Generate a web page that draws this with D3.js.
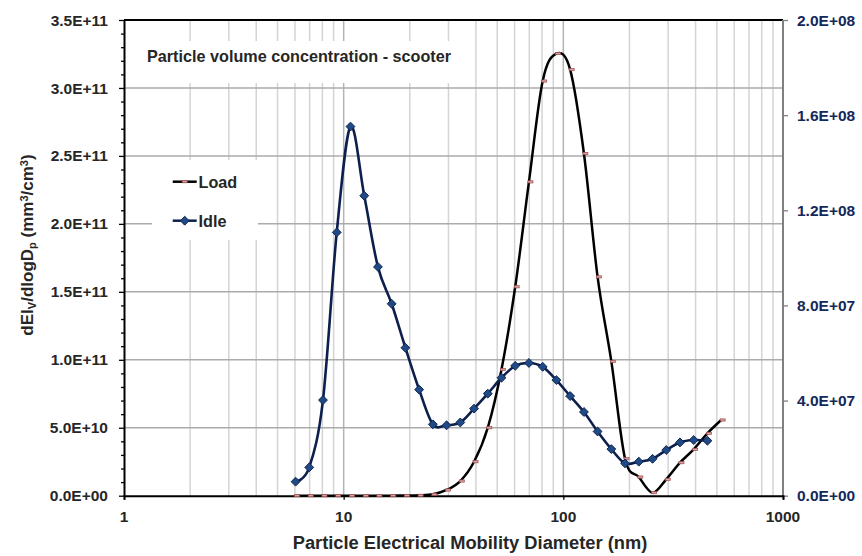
<!DOCTYPE html>
<html>
<head>
<meta charset="utf-8">
<script src="https://cdn.jsdelivr.net/npm/d3@7"></script>
<style>
  html, body { margin: 0; padding: 0; background: #fff; }
  svg { display: block; font-family: "Liberation Sans", Arial, sans-serif; font-weight: bold; }
</style>
</head>
<body>
<svg id="chart" width="862" height="556"></svg>
<script>
// Mobility diameter bins (nm)
const diameters = [6.04, 6.97, 8.05, 9.30, 10.74, 12.41, 14.32, 16.54, 19.10, 22.06,
  25.47, 29.41, 33.96, 39.22, 45.29, 52.30, 60.39, 69.73, 80.54, 93.01,
  107.4, 124.1, 143.2, 165.4, 191.0, 220.6, 254.7, 294.1, 339.6, 392.2,
  452.9, 523.0];

// Load: volume concentration, primary (left) axis
const loadValues = [0, 0, 0, 0, 0, 0, 2e7, 5e7, 1e8, 3e8,
  1.0e9, 4.2e9, 1.08e10, 2.5e10, 5.0e10, 9.29e10, 1.537e11, 2.309e11, 3.051e11, 3.253e11,
  3.135e11, 2.518e11, 1.610e11, 9.88e10, 2.72e10, 1.375e10, 2.2e9, 1.206e10, 2.43e10, 3.41e10,
  4.59e10, 5.57e10];

// Idle: volume concentration, secondary (right) axis
const idleValues = [5.9e6, 1.19e7, 4.02e7, 1.107e8, 1.552e8, 1.261e8, 9.62e7, 8.07e7, 6.22e7, 4.46e7,
  3.00e7, 2.96e7, 3.08e7, 3.66e7, 4.29e7, 4.96e7, 5.46e7, 5.58e7, 5.42e7, 4.86e7,
  4.19e7, 3.52e7, 2.70e7, 1.96e7, 1.36e7, 1.43e7, 1.55e7, 1.92e7, 2.24e7, 2.34e7,
  2.31e7];

const leftTicks = [0, 5e10, 1e11, 1.5e11, 2e11, 2.5e11, 3e11, 3.5e11];
const leftTickLabels = ["0.0E+00", "5.0E+10", "1.0E+11", "1.5E+11", "2.0E+11", "2.5E+11", "3.0E+11", "3.5E+11"];
const rightTicks = [0, 4e7, 8e7, 1.2e8, 1.6e8, 2e8];
const rightTickLabels = ["0.0E+00", "4.0E+07", "8.0E+07", "1.2E+08", "1.6E+08", "2.0E+08"];
const xTicks = [1, 10, 100, 1000];
const xTickLabels = ["1", "10", "100", "1000"];

const chartTitle = "Particle volume concentration - scooter";
const xTitle = "Particle Electrical Mobility Diameter (nm)";
const seriesNames = ["Load", "Idle"];

const W = 862, H = 556;
const margin = { left: 124, right: 79, top: 20, bottom: 60.3 };
const x0 = margin.left, x1 = W - margin.right, y0 = H - margin.bottom, y1 = margin.top;

const svg = d3.select("#chart");
const textColor = "#262626";
const navy = "#14285c";

const x = d3.scaleLog().domain([1, 1000]).range([x0, x1]);
const yL = d3.scaleLinear().domain([0, 3.5e11]).range([y0, y1]);
const yR = d3.scaleLinear().domain([0, 2e8]).range([y0, y1]);

// vertical grid: every log minor value
const gridX = [];
for (let dec = 1; dec < 1000; dec *= 10) {
  for (let k = 2; k <= 9; k++) gridX.push(dec * k);
  if (dec * 10 < 1000) gridX.push(dec * 10);
}
const grid = svg.append("g");
grid.selectAll("line.vx").data(gridX).join("line")
  .attr("x1", d => x(d)).attr("x2", d => x(d))
  .attr("y1", y1).attr("y2", y0)
  .attr("stroke", d => (Math.abs(Math.log10(d) - Math.round(Math.log10(d))) < 1e-9) ? "#b4b4b4" : "#d4d4d4")
  .attr("stroke-width", 1.5);
grid.selectAll("line.hy").data(leftTicks.slice(1, -1)).join("line")
  .attr("x1", x0).attr("x2", x1)
  .attr("y1", d => yL(d)).attr("y2", d => yL(d))
  .attr("stroke", "#ababab").attr("stroke-width", 1.5);

// white boxes behind the title and the legend
svg.append("rect").attr("x", 135).attr("y", 41).attr("width", 322).attr("height", 42).attr("fill", "#fff");
svg.append("rect").attr("x", 152).attr("y", 160).attr("width", 106).attr("height", 80).attr("fill", "#fff");

// frame
svg.append("line").attr("x1", x0).attr("x2", x1).attr("y1", y1).attr("y2", y1).attr("stroke", "#000").attr("stroke-width", 2);
svg.append("line").attr("x1", x1).attr("x2", x1).attr("y1", y1).attr("y2", y0).attr("stroke", "#808080").attr("stroke-width", 2);

// left axis
const axL = d3.axisLeft(yL).tickValues(d3.range(0, 3.5e11 + 1, 1e10)).tickSize(0).tickFormat("");
const gL = svg.append("g").attr("transform", `translate(${x0},0)`).call(axL);
gL.select(".domain").attr("stroke", "#000").attr("stroke-width", 2);
gL.selectAll(".tick line").remove();
gL.selectAll(".tick").append("line")
  .attr("x1", d => (Math.round(d / 1e10) % 5 === 0) ? -5 : -3).attr("x2", 0)
  .attr("stroke", "#000").attr("stroke-width", 1.3);
svg.append("g").selectAll("text").data(leftTicks).join("text")
  .attr("x", 108).attr("y", d => yL(d)).attr("dy", "0.36em")
  .attr("text-anchor", "end").attr("font-size", 15.5).attr("fill", textColor)
  .text((d, i) => leftTickLabels[i]);

// right axis
const gR = svg.append("g").attr("transform", `translate(${x1},0)`)
  .call(d3.axisRight(yR).tickValues(rightTicks).tickSize(5).tickFormat(""));
gR.select(".domain").remove();
gR.selectAll(".tick line").attr("stroke", "#808080").attr("stroke-width", 1.3);
svg.append("g").selectAll("text").data(rightTicks).join("text")
  .attr("x", 797).attr("y", d => yR(d)).attr("dy", "0.36em")
  .attr("text-anchor", "start").attr("font-size", 15.5).attr("fill", navy)
  .text((d, i) => rightTickLabels[i]);

// bottom axis
const gB = svg.append("g").attr("transform", `translate(0,${y0})`)
  .call(d3.axisBottom(x).tickValues(xTicks).tickSize(4).tickFormat(""));
gB.select(".domain").attr("stroke", "#000").attr("stroke-width", 2);
gB.selectAll(".tick line").attr("stroke", "#000").attr("stroke-width", 1.3);
svg.append("g").selectAll("text").data(xTicks).join("text")
  .attr("x", d => x(d)).attr("y", 516).attr("dy", "0.36em")
  .attr("text-anchor", "middle").attr("font-size", 15.5).attr("fill", textColor)
  .text((d, i) => xTickLabels[i]);

// axis titles
svg.append("text").attr("x", 470).attr("y", 549)
  .attr("text-anchor", "middle").attr("font-size", 18.3).attr("fill", textColor)
  .text(xTitle);
const yt = svg.append("text")
  .attr("transform", "translate(33,245) rotate(-90)")
  .attr("text-anchor", "middle").attr("font-size", 17).attr("fill", textColor);
yt.append("tspan").text("dEI");
yt.append("tspan").attr("font-size", 11).attr("baseline-shift", "-30%").text("V");
yt.append("tspan").text("/dlogD");
yt.append("tspan").attr("font-size", 11).attr("baseline-shift", "-30%").text("p");
yt.append("tspan").text(" (mm");
yt.append("tspan").attr("font-size", 11).attr("baseline-shift", "50%").text("3");
yt.append("tspan").text("/cm");
yt.append("tspan").attr("font-size", 11).attr("baseline-shift", "50%").text("3");
yt.append("tspan").text(")");

// chart title
svg.append("text").attr("x", 147).attr("y", 62).attr("text-anchor", "start")
  .attr("font-size", 16.2).attr("fill", textColor).text(chartTitle);

// series
const curve = d3.curveCardinal.tension(0);
const loadData = diameters.map((d, i) => [d, loadValues[i]]);
const idleData = idleValues.map((v, i) => [diameters[i], v]);

svg.append("path").datum(loadData)
  .attr("d", d3.line().x(d => x(d[0])).y(d => yL(d[1])).curve(curve))
  .attr("fill", "none").attr("stroke", "#000").attr("stroke-width", 2.5);
svg.append("path").datum(idleData)
  .attr("d", d3.line().x(d => x(d[0])).y(d => yR(d[1])).curve(curve))
  .attr("fill", "none").attr("stroke", "#0c1f4d").attr("stroke-width", 2.6);

const diamond = d3.symbol().type(d3.symbolDiamond2).size(50);
function loadMarker(g) {
  g.append("rect").attr("x", -2.5).attr("y", -1.1).attr("width", 5).attr("height", 2.2)
    .attr("fill", "#e0a0a0").attr("stroke", "#9a4c4c").attr("stroke-width", 0.7);
}
function idleMarker(g) {
  g.append("path").attr("d", diamond()).attr("fill", "#1f4a85").attr("stroke", "#0f2650").attr("stroke-width", 1);
}
svg.append("g").selectAll("g").data(loadData).join("g")
  .attr("transform", d => `translate(${x(d[0]) + 1.5},${yL(d[1])})`)
  .each(function () { loadMarker(d3.select(this)); });
svg.append("g").selectAll("g").data(idleData).join("g")
  .attr("transform", d => `translate(${x(d[0])},${yR(d[1])})`)
  .each(function () { idleMarker(d3.select(this)); });

// legend
const legend = svg.append("g");
const legendRows = [
  { name: seriesNames[0], y: 181.7, stroke: "#000", marker: loadMarker },
  { name: seriesNames[1], y: 220.7, stroke: "#0c1f4d", marker: idleMarker }
];
legendRows.forEach(r => {
  legend.append("line").attr("x1", 172.7).attr("x2", 196.7).attr("y1", r.y).attr("y2", r.y)
    .attr("stroke", r.stroke).attr("stroke-width", 2.5);
  const m = legend.append("g").attr("transform", `translate(184.7,${r.y})`);
  r.marker(m);
  legend.append("text").attr("x", 198.5).attr("y", r.y).attr("dy", "0.36em")
    .attr("font-size", 16.2).attr("fill", textColor).text(r.name);
});
</script>
</body>
</html>
